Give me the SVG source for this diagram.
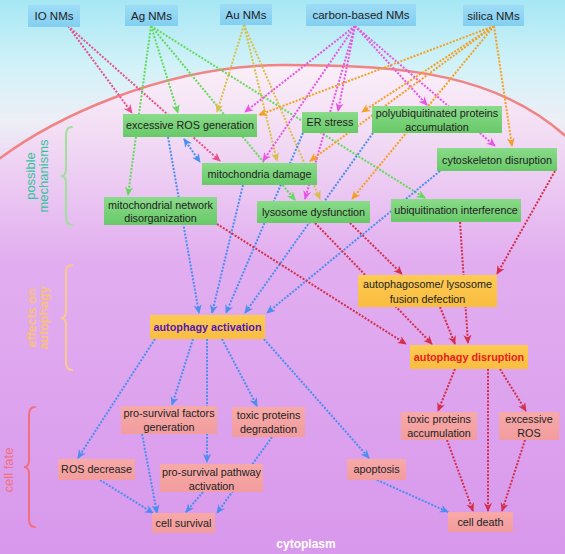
<svg xmlns="http://www.w3.org/2000/svg" width="565" height="554" viewBox="0 0 565 554">
<defs>
<linearGradient id="bgOut" x1="0" y1="0" x2="0" y2="554" gradientUnits="userSpaceOnUse">
<stop offset="0" stop-color="#a6e7f4"/><stop offset="0.12" stop-color="#d2f2f8"/><stop offset="0.22" stop-color="#eeeef6"/><stop offset="0.36" stop-color="#e6c2f0"/><stop offset="0.6" stop-color="#dca4ef"/><stop offset="1" stop-color="#d898ec"/>
</linearGradient>
<linearGradient id="bgIn" x1="0" y1="62" x2="0" y2="554" gradientUnits="userSpaceOnUse">
<stop offset="0" stop-color="#faf0f8"/><stop offset="0.15" stop-color="#f2dcf4"/><stop offset="0.4" stop-color="#e2aef0"/><stop offset="1" stop-color="#d898ec"/>
</linearGradient>
<linearGradient id="gBlue" x1="0" y1="0" x2="0" y2="1"><stop offset="0" stop-color="#9edcf6"/><stop offset="1" stop-color="#82cff0"/></linearGradient>
<linearGradient id="gGreen" x1="0" y1="0" x2="0" y2="1"><stop offset="0" stop-color="#8adb8a"/><stop offset="1" stop-color="#68c968"/></linearGradient>
<linearGradient id="gOrange" x1="0" y1="0" x2="0" y2="1"><stop offset="0" stop-color="#fdcb52"/><stop offset="1" stop-color="#f9bd40"/></linearGradient>
<linearGradient id="gSalmon" x1="0" y1="0" x2="0" y2="1"><stop offset="0" stop-color="#f7a9a8"/><stop offset="1" stop-color="#f29c9e"/></linearGradient>
<marker id="mPk" viewBox="0 0 10 10" refX="9" refY="5" markerWidth="9" markerHeight="9" markerUnits="userSpaceOnUse" orient="auto-start-reverse"><path d="M0,0.5 L10,5 L0,9.5 L3,5 Z" fill="#e8508a"/></marker>
<marker id="mGr" viewBox="0 0 10 10" refX="9" refY="5" markerWidth="9" markerHeight="9" markerUnits="userSpaceOnUse" orient="auto-start-reverse"><path d="M0,0.5 L10,5 L0,9.5 L3,5 Z" fill="#62da5a"/></marker>
<marker id="mYe" viewBox="0 0 10 10" refX="9" refY="5" markerWidth="9" markerHeight="9" markerUnits="userSpaceOnUse" orient="auto-start-reverse"><path d="M0,0.5 L10,5 L0,9.5 L3,5 Z" fill="#d8c048"/></marker>
<marker id="mMg" viewBox="0 0 10 10" refX="9" refY="5" markerWidth="9" markerHeight="9" markerUnits="userSpaceOnUse" orient="auto-start-reverse"><path d="M0,0.5 L10,5 L0,9.5 L3,5 Z" fill="#e854e6"/></marker>
<marker id="mOr" viewBox="0 0 10 10" refX="9" refY="5" markerWidth="9" markerHeight="9" markerUnits="userSpaceOnUse" orient="auto-start-reverse"><path d="M0,0.5 L10,5 L0,9.5 L3,5 Z" fill="#f4a024"/></marker>
<marker id="mBl" viewBox="0 0 10 10" refX="9" refY="5" markerWidth="9" markerHeight="9" markerUnits="userSpaceOnUse" orient="auto-start-reverse"><path d="M0,0.5 L10,5 L0,9.5 L3,5 Z" fill="#4a8ef0"/></marker>
<marker id="mRd" viewBox="0 0 10 10" refX="9" refY="5" markerWidth="9" markerHeight="9" markerUnits="userSpaceOnUse" orient="auto-start-reverse"><path d="M0,0.5 L10,5 L0,9.5 L3,5 Z" fill="#d42e4a"/></marker>
</defs>
<style>
text{font-family:"Liberation Sans",Arial,sans-serif;font-size:10.8px;fill:#222;text-anchor:middle}
.top text{font-size:11.5px}
.c{fill:none;stroke-width:2;stroke-dasharray:2 1.5}
.pk{stroke:#e8508a;marker-end:url(#mPk)}
.gr{stroke:#62da5a;marker-end:url(#mGr)}
.ye{stroke:#d8c048;marker-end:url(#mYe)}
.mg{stroke:#e854e6;marker-end:url(#mMg)}
.or{stroke:#f4a024;marker-end:url(#mOr)}
.bl{stroke:#4a8ef0;marker-end:url(#mBl)}
.rd{stroke:#d42e4a;marker-end:url(#mRd)}
.bx-b{fill:url(#gBlue)}
.bx-g{fill:url(#gGreen)}
.bx-o{fill:url(#gOrange)}
.bx-s{fill:url(#gSalmon)}
.brace{fill:none;stroke-width:2;stroke-linecap:round}
.side{font-size:13px}
</style>

<rect x="0" y="0" width="565" height="554" fill="url(#bgOut)"/>
<path d="M-5,162 C50,120 160,65 285,65 C410,65 500,75 570,140 L570,560 L-5,560 Z" fill="url(#bgIn)"/>
<path d="M-5,162 C50,120 160,65 285,65 C410,65 500,75 570,140" fill="none" stroke="#f08484" stroke-width="2.5"/>

<g id="labels">
<text class="side" transform="translate(0,176) rotate(-90)" fill="#36c29c" style="fill:#36c29c"><tspan x="0" y="35">possible</tspan><tspan x="0" y="48">mechanisms</tspan></text>
<path class="brace" stroke="#9ee29a" d="M72,127 Q66,127 66,135 L66,169 Q66,176 61,176 Q66,176 66,183 L66,217 Q66,225 72,225"/>
<text class="side" transform="translate(0,318) rotate(-90)" style="fill:#f8c07c;font-weight:bold;font-size:12.5px"><tspan x="0" y="36">effects on</tspan><tspan x="0" y="48">autophagy</tspan></text>
<path class="brace" stroke="#fac88e" d="M72,265 Q66,265 66,273 L66,311 Q66,318 61,318 Q66,318 66,325 L66,362 Q66,370 72,370"/>
<text class="side" transform="translate(0,470) rotate(-90)" style="fill:#f2707e"><tspan x="0" y="13">cell fate</tspan></text>
<path class="brace" stroke="#f2707e" d="M35,407 Q29,407 29,415 L29,460 Q29,467 24,467 Q29,467 29,474 L29,519 Q29,527 35,527"/>
<text x="306" y="548" style="fill:#ffffff;font-weight:bold;font-size:12px">cytoplasm</text>
</g>

<g id="connectors">
<line class="c pk" x1="68" y1="26" x2="132" y2="113"/>
<line class="c pk" x1="68" y1="26" x2="220" y2="161"/>
<line class="c gr" x1="151" y1="26" x2="128" y2="195"/>
<line class="c gr" x1="151" y1="26" x2="178" y2="113"/>
<line class="c gr" x1="151" y1="26" x2="295" y2="200"/>
<line class="c gr" x1="151" y1="26" x2="425" y2="198"/>
<line class="c ye" x1="244" y1="25" x2="217" y2="112"/>
<line class="c ye" x1="244" y1="25" x2="277" y2="161"/>
<line class="c ye" x1="244" y1="25" x2="320" y2="199"/>
<line class="c mg" x1="355" y1="26" x2="245" y2="112"/>
<line class="c mg" x1="355" y1="26" x2="263" y2="161"/>
<line class="c mg" x1="355" y1="26" x2="338" y2="111"/>
<line class="c mg" x1="355" y1="26" x2="305" y2="199"/>
<line class="c mg" x1="355" y1="26" x2="427" y2="105"/>
<line class="c mg" x1="355" y1="26" x2="495" y2="146"/>
<line class="c or" x1="494" y1="26" x2="259" y2="115"/>
<line class="c or" x1="494" y1="26" x2="362" y2="112"/>
<line class="c or" x1="494" y1="26" x2="310" y2="161"/>
<line class="c or" x1="494" y1="26" x2="352" y2="199"/>
<line class="c or" x1="494" y1="26" x2="512" y2="146"/>
<line class="c bl" x1="168" y1="137" x2="199" y2="313"/>
<line class="c bl" x1="243" y1="185" x2="212" y2="313"/>
<line class="c bl" x1="303" y1="133" x2="226" y2="313"/>
<line class="c bl" x1="373" y1="133" x2="245" y2="313"/>
<line class="c bl" x1="440" y1="171" x2="267" y2="313"/>
<line class="c bl" x1="184" y1="139" x2="200" y2="162" style="marker-start:url(#mBl)"/>
<line class="c bl" x1="155" y1="339" x2="78" y2="458"/>
<line class="c bl" x1="193" y1="339" x2="172" y2="405"/>
<line class="c bl" x1="207" y1="339" x2="207" y2="462"/>
<line class="c bl" x1="222" y1="339" x2="257" y2="406"/>
<line class="c bl" x1="264" y1="339" x2="369" y2="458"/>
<line class="c bl" x1="100" y1="480" x2="153" y2="513"/>
<line class="c bl" x1="142" y1="434" x2="157" y2="513"/>
<line class="c bl" x1="203" y1="492" x2="186" y2="512"/>
<line class="c bl" x1="272" y1="437" x2="217" y2="513"/>
<line class="c bl" x1="377" y1="480" x2="448" y2="512"/>
<line class="c rd" x1="217" y1="224" x2="406" y2="344"/>
<line class="c rd" x1="315" y1="223" x2="432" y2="344"/>
<line class="c rd" x1="350" y1="223" x2="402" y2="274"/>
<line class="c rd" x1="460" y1="222" x2="468" y2="343"/>
<line class="c rd" x1="555" y1="171" x2="497" y2="274"/>
<line class="c rd" x1="440" y1="307" x2="455" y2="344"/>
<line class="c rd" x1="455" y1="369" x2="438" y2="411"/>
<line class="c rd" x1="488" y1="369" x2="488" y2="511"/>
<line class="c rd" x1="500" y1="369" x2="526" y2="411"/>
<line class="c rd" x1="447" y1="440" x2="473" y2="511"/>
<line class="c rd" x1="525" y1="440" x2="502" y2="511"/>
</g>

<g class="top">
<g id="n-io"><rect class="bx-b" x="28" y="5" width="52" height="22"/><text x="54" y="20">IO NMs</text></g>
<g id="n-ag"><rect class="bx-b" x="125" y="5" width="53" height="21"/><text x="151.5" y="20">Ag NMs</text></g>
<g id="n-au"><rect class="bx-b" x="220" y="4" width="52" height="21"/><text x="246" y="19">Au NMs</text></g>
<g id="n-carbon"><rect class="bx-b" x="306" y="4" width="110" height="22"/><text x="361" y="19">carbon-based NMs</text></g>
<g id="n-silica"><rect class="bx-b" x="463" y="5" width="61" height="21"/><text x="493.5" y="20">silica NMs</text></g>
</g>

<g id="n-ros"><rect class="bx-g" x="123" y="114" width="134" height="23"/><text x="190" y="129">excessive ROS generation</text></g>
<g id="n-er"><rect class="bx-g" x="302" y="112" width="56" height="21"/><text x="330" y="126">ER stress</text></g>
<g id="n-polyub"><rect class="bx-g" x="372" y="106" width="130" height="27"/><text x="437" y="117">polyubiquitinated proteins</text><text x="437" y="131">accumulation</text></g>
<g id="n-mito"><rect class="bx-g" x="202" y="163" width="115" height="22"/><text x="259.5" y="178">mitochondria damage</text></g>
<g id="n-cyto"><rect class="bx-g" x="437" y="148" width="120" height="23"/><text x="497" y="163.5">cytoskeleton disruption</text></g>
<g id="n-mitonet"><rect class="bx-g" x="104" y="197" width="113" height="28"/><text x="160.5" y="209">mitochondrial network</text><text x="160.5" y="222">disorganization</text></g>
<g id="n-lyso"><rect class="bx-g" x="257" y="201" width="113" height="22"/><text x="313.5" y="216">lysosome dysfunction</text></g>
<g id="n-ubiq"><rect class="bx-g" x="391" y="199" width="130" height="23"/><text x="456" y="214">ubiquitination interference</text></g>

<g id="n-aa"><rect class="bx-o" x="150" y="315" width="115" height="24"/><text x="207.5" y="331" style="font-weight:bold;fill:#5318b8">autophagy activation</text></g>
<g id="n-fusion"><rect class="bx-o" x="358" y="275" width="139" height="32"/><text x="427.5" y="288">autophagosome/ lysosome</text><text x="427.5" y="303">fusion defection</text></g>
<g id="n-ad"><rect class="bx-o" x="410" y="345" width="118" height="24"/><text x="469" y="361" style="font-weight:bold;fill:#e82020">autophagy disruption</text></g>

<g id="n-psf"><rect class="bx-s" x="121" y="406" width="96" height="28"/><text x="169" y="417">pro-survival factors</text><text x="169" y="431">generation</text></g>
<g id="n-tpd"><rect class="bx-s" x="232" y="407" width="73" height="30"/><text x="268.5" y="419">toxic proteins</text><text x="268.5" y="433">degradation</text></g>
<g id="n-rosd"><rect class="bx-s" x="58" y="459" width="77" height="21"/><text x="96.5" y="473">ROS decrease</text></g>
<g id="n-psp"><rect class="bx-s" x="160" y="464" width="103" height="28"/><text x="211.5" y="476">pro-survival pathway</text><text x="211.5" y="490">activation</text></g>
<g id="n-surv"><rect class="bx-s" x="152" y="513" width="63" height="20"/><text x="183.5" y="527">cell survival</text></g>
<g id="n-tpa"><rect class="bx-s" x="401" y="412" width="76" height="28"/><text x="439" y="423">toxic proteins</text><text x="439" y="437">accumulation</text></g>
<g id="n-eros"><rect class="bx-s" x="499" y="412" width="60" height="28"/><text x="529" y="423">excessive</text><text x="529" y="437">ROS</text></g>
<g id="n-apop"><rect class="bx-s" x="347" y="459" width="59" height="21"/><text x="376.5" y="473">apoptosis</text></g>
<g id="n-death"><rect class="bx-s" x="448" y="512" width="65" height="20"/><text x="480.5" y="526">cell death</text></g>
</svg>
